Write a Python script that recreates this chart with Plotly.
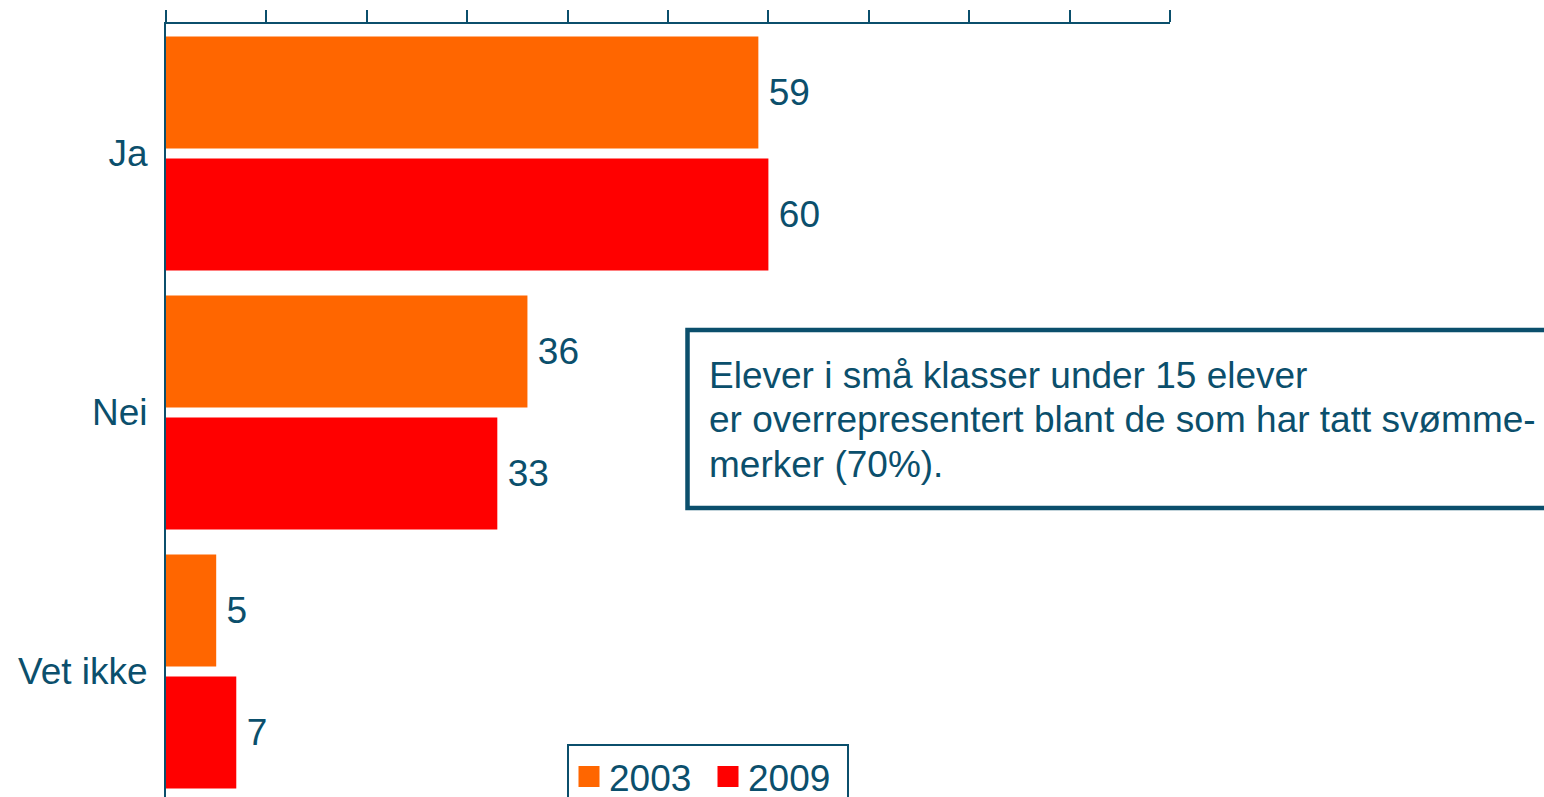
import plotly.graph_objects as go

categories = ["Ja", "Nei", "Vet ikke"]
years = ["2003", "2009"]
values_2003 = [59, 36, 5]
values_2009 = [60, 33, 7]
colors = {"2003": "#FF6600", "2009": "#FF0000"}
note_lines = [
    "Elever i små klasser under 15 elever",
    "er overrepresentert blant de som har tatt svømme-",
    "merker (70%).",
]

TEXT = "#0b4f6c"
FONT = "Liberation Sans, Arial, sans-serif"
FS = 37

W, H = 1544, 830
ML, MT = 166, 24
plot_w = 1004
plot_h = 773
MR = W - ML - plot_w
MB = H - MT - plot_h
PITCH = 259.0

def px_x(p):
    return (p - ML) / plot_w

def px_y(p):
    return (MT + plot_h - p) / plot_h

fig = go.Figure()
series = [("2003", values_2003, -0.4517), ("2009", values_2009, 0.0193)]
for name, vals, off in series:
    fig.add_trace(go.Bar(
        y=categories, x=vals, orientation="h", name=name,
        marker=dict(color=colors[name], line=dict(width=0)),
        width=0.4324, offset=off,
        text=["\u2009" + str(v) for v in vals], textposition="outside",
        outsidetextfont=dict(size=FS, color=TEXT, family=FONT),
        cliponaxis=False, showlegend=False, hoverinfo="skip",
    ))
    fig.add_trace(go.Scatter(
        x=[None], y=[None], mode="markers", name=name,
        marker=dict(symbol="square", size=16, color=colors[name],
                    line=dict(color=colors[name], width=5)),
        showlegend=True, hoverinfo="skip",
    ))

line_centers = [376, 420, 464]
annotations = [
    dict(xref="paper", yref="paper", x=px_x(707), y=px_y(yc),
         xanchor="left", yanchor="middle", align="left", showarrow=False,
         text=t, font=dict(size=FS, color=TEXT, family=FONT))
    for t, yc in zip(note_lines, line_centers)
]

fig.update_layout(
    width=W, height=H, autosize=False,
    margin=dict(l=ML, r=MR, t=MT, b=MB, pad=0, autoexpand=False),
    paper_bgcolor="white", plot_bgcolor="white",
    barmode="overlay",
    font=dict(family=FONT, size=FS, color=TEXT),
    xaxis=dict(range=[0, 100], side="top", dtick=10, tick0=0,
               showticklabels=False, ticks="outside", ticklen=12,
               tickwidth=2, tickcolor=TEXT, showline=True, linecolor=TEXT,
               linewidth=2, showgrid=False, zeroline=False, fixedrange=True),
    yaxis=dict(type="category", categoryorder="array", categoryarray=categories,
               range=[-0.5 + plot_h / PITCH, -0.5], showline=True,
               linecolor=TEXT, linewidth=2, ticks="", showgrid=False,
               zeroline=False, ticklabelstandoff=9, fixedrange=True,
               tickfont=dict(size=FS, color=TEXT, family=FONT)),
    legend=dict(orientation="h", x=px_x(567), y=px_y(744), xanchor="left",
                yanchor="top", bordercolor=TEXT, borderwidth=2,
                bgcolor="white", font=dict(size=FS, color=TEXT, family=FONT),
                entrywidth=94, entrywidthmode="pixels", itemclick=False,
                itemdoubleclick=False),
    shapes=[dict(type="rect", xref="paper", yref="paper",
                 x0=px_x(687.5), x1=1.6, y0=px_y(508), y1=px_y(330),
                 line=dict(color=TEXT, width=4.5), fillcolor="rgba(0,0,0,0)")],
    annotations=annotations,
)

fig.write_html(
    "out.html",
    config={"displayModeBar": False, "staticPlot": False},
    post_script="document.body.style.margin='0';document.body.style.overflow='hidden';",
)
